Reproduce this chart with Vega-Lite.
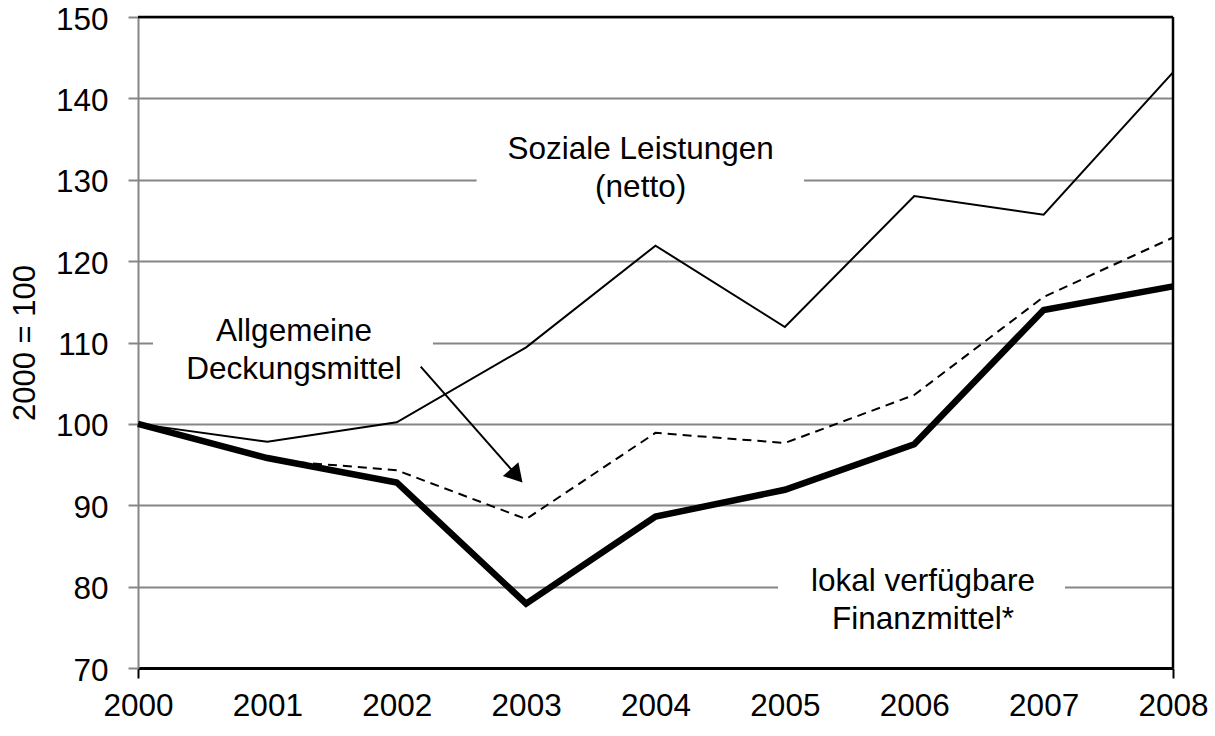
{
  "$schema": "https://vega.github.io/schema/vega-lite/v6.json",
  "width": 1035,
  "height": 651,
  "autosize": {"type": "none"},
  "padding": {"left": 138, "top": 17, "right": 42, "bottom": 68},
  "background": "white",
  "config": {"view": {"stroke": null}, "font": "Liberation Sans"},
  "datasets": {
    "series": [
      {"series": "Soziale Leistungen (netto)", "year": 2000, "value": 100},
      {"series": "Soziale Leistungen (netto)", "year": 2001, "value": 97.8},
      {"series": "Soziale Leistungen (netto)", "year": 2002, "value": 100.2},
      {"series": "Soziale Leistungen (netto)", "year": 2003, "value": 109.4},
      {"series": "Soziale Leistungen (netto)", "year": 2004, "value": 121.9},
      {"series": "Soziale Leistungen (netto)", "year": 2005, "value": 111.9},
      {"series": "Soziale Leistungen (netto)", "year": 2006, "value": 128.0},
      {"series": "Soziale Leistungen (netto)", "year": 2007, "value": 125.7},
      {"series": "Soziale Leistungen (netto)", "year": 2008, "value": 143.2},
      {"series": "Allgemeine Deckungsmittel", "year": 2000, "value": 100},
      {"series": "Allgemeine Deckungsmittel", "year": 2001, "value": 95.6},
      {"series": "Allgemeine Deckungsmittel", "year": 2002, "value": 94.3},
      {"series": "Allgemeine Deckungsmittel", "year": 2003, "value": 88.3},
      {"series": "Allgemeine Deckungsmittel", "year": 2004, "value": 98.9},
      {"series": "Allgemeine Deckungsmittel", "year": 2005, "value": 97.65},
      {"series": "Allgemeine Deckungsmittel", "year": 2006, "value": 103.55},
      {"series": "Allgemeine Deckungsmittel", "year": 2007, "value": 115.6},
      {"series": "Allgemeine Deckungsmittel", "year": 2008, "value": 122.9},
      {"series": "lokal verfügbare Finanzmittel*", "year": 2000, "value": 100},
      {"series": "lokal verfügbare Finanzmittel*", "year": 2001, "value": 95.8},
      {"series": "lokal verfügbare Finanzmittel*", "year": 2002, "value": 92.8},
      {"series": "lokal verfügbare Finanzmittel*", "year": 2003, "value": 77.9},
      {"series": "lokal verfügbare Finanzmittel*", "year": 2004, "value": 88.6},
      {"series": "lokal verfügbare Finanzmittel*", "year": 2005, "value": 91.9},
      {"series": "lokal verfügbare Finanzmittel*", "year": 2006, "value": 97.5},
      {"series": "lokal verfügbare Finanzmittel*", "year": 2007, "value": 114.0},
      {"series": "lokal verfügbare Finanzmittel*", "year": 2008, "value": 116.9}
    ],
    "boxes": [
      {"year": 2002.617, "year2": 2005.148, "value": 125, "value2": 135},
      {"year": 2000.116, "year2": 2002.28, "value": 104, "value2": 116},
      {"year": 2004.947, "year2": 2007.165, "value": 74, "value2": 85}
    ],
    "labels": [
      {"year": 2003.885, "value": 133.66, "text": "Soziale Leistungen\n(netto)"},
      {"year": 2001.206, "value": 111.29, "text": "Allgemeine\nDeckungsmittel"},
      {"year": 2006.068, "value": 80.6, "text": "lokal verfügbare\nFinanzmittel*"}
    ],
    "frame": [
      {"year": 2000, "year2": 2008, "value": 150, "value2": 150},
      {"year": 2008, "year2": 2008, "value": 70, "value2": 150}
    ],
    "arrow": [
      {"year": 2002.185, "year2": 2002.93, "value": 107.03, "value2": 93.6}
    ],
    "arrowhead": [
      {"year": 2002.926, "value": 93.61}
    ]
  },
  "encoding": {
    "x": {
      "field": "year",
      "type": "quantitative",
      "scale": {"domain": [2000, 2008], "nice": false, "zero": false},
      "axis": {
        "title": null,
        "values": [2000, 2001, 2002, 2003, 2004, 2005, 2006, 2007, 2008],
        "format": "d",
        "grid": false,
        "domainColor": "black",
        "domainWidth": 3,
        "tickSize": 10,
        "tickWidth": 2,
        "tickColor": {"condition": {"test": "datum.value == 2000 || datum.value == 2008", "value": "black"}, "value": "transparent"},
        "labelFontSize": 31.5,
        "labelColor": "black",
        "labelFont": "Liberation Sans",
        "labelPadding": 12,
        "labelFlush": false,
        "labelOverlap": false
      }
    },
    "y": {
      "field": "value",
      "type": "quantitative",
      "scale": {"domain": [70, 150], "nice": false, "zero": false},
      "axis": {
        "title": "2000 = 100",
        "values": [70, 80, 90, 100, 110, 120, 130, 140, 150],
        "grid": true,
        "gridColor": "#868686",
        "gridWidth": 2,
        "domainColor": "#868686",
        "domainWidth": 2,
        "tickColor": "#868686",
        "tickWidth": 2,
        "tickSize": 10,
        "labelFontSize": 31.5,
        "labelColor": "black",
        "labelFont": "Liberation Sans",
        "labelPadding": 20,
        "labelOffset": 3,
        "labelFlush": false,
        "titleFontSize": 31,
        "titleFont": "Liberation Sans",
        "titleFontWeight": "normal",
        "titleColor": "black",
        "titlePadding": 14
      }
    }
  },
  "layer": [
    {
      "data": {"name": "boxes"},
      "mark": {"type": "rect", "fill": "white", "stroke": null},
      "encoding": {"x2": {"field": "year2"}, "y2": {"field": "value2"}}
    },
    {
      "data": {"name": "series"},
      "transform": [{"filter": "datum.series == 'Soziale Leistungen (netto)'"}],
      "mark": {"type": "line", "color": "black", "strokeWidth": 2}
    },
    {
      "data": {"name": "series"},
      "transform": [{"filter": "datum.series == 'Allgemeine Deckungsmittel'"}],
      "mark": {"type": "line", "color": "black", "strokeWidth": 2, "strokeDash": [9, 6]}
    },
    {
      "data": {"name": "series"},
      "transform": [{"filter": "datum.series == 'lokal verfügbare Finanzmittel*'"}],
      "mark": {"type": "line", "color": "black", "strokeWidth": 6.5}
    },
    {
      "data": {"name": "frame"},
      "mark": {"type": "rule", "color": "black", "strokeWidth": 2.5},
      "encoding": {"x2": {"field": "year2"}, "y2": {"field": "value2"}}
    },
    {
      "data": {"name": "arrow"},
      "mark": {"type": "rule", "color": "black", "strokeWidth": 2},
      "encoding": {"x2": {"field": "year2"}, "y2": {"field": "value2"}}
    },
    {
      "data": {"name": "arrowhead"},
      "mark": {"type": "point", "shape": "triangle-up", "filled": true, "color": "black", "opacity": 1, "size": 430, "angle": 138.7}
    },
    {
      "data": {"name": "labels"},
      "mark": {"type": "text", "font": "Liberation Sans", "fontSize": 31.5, "lineHeight": 38, "align": "center", "baseline": "middle", "lineBreak": "\n", "color": "black"},
      "encoding": {"text": {"field": "text"}}
    }
  ]
}
